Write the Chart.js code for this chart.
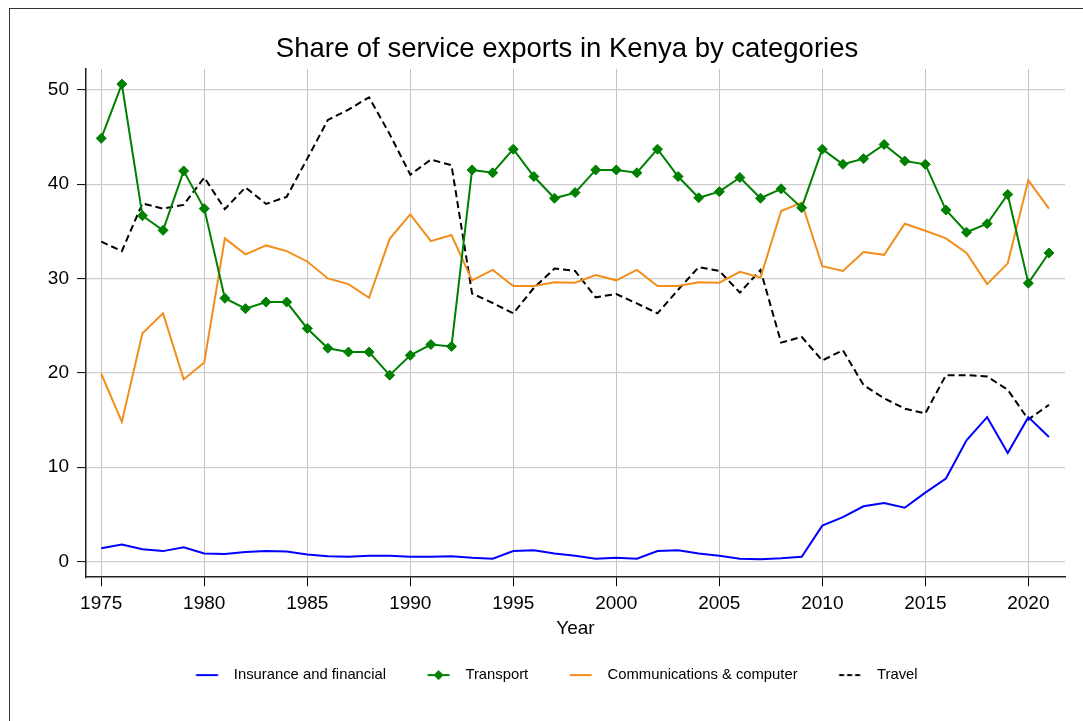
<!DOCTYPE html>
<html>
<head>
<meta charset="utf-8">
<title>Share of service exports in Kenya by categories</title>
<script src="https://cdn.jsdelivr.net/npm/chart.js@4.4.1/dist/chart.umd.min.js"></script>
<style>
  html, body { margin: 0; padding: 0; background: #fff; overflow: hidden; }
  #wrap { position: relative; width: 1083px; height: 721px; }
  #frame { position: absolute; left: 9px; top: 8px; width: 1090px; height: 730px;
           border-top: 1px solid #333; border-left: 1px solid #333; }
  #chart { position: absolute; left: 0; top: 0; }
</style>
</head>
<body>
<div id="wrap">
  <div id="frame"></div>
  <canvas id="chart" width="1083" height="721"></canvas>
</div>
<script>
// years on the x axis
const years = [1975, 1976, 1977, 1978, 1979, 1980, 1981, 1982, 1983, 1984,
               1985, 1986, 1987, 1988, 1989, 1990, 1991, 1992, 1993, 1994,
               1995, 1996, 1997, 1998, 1999, 2000, 2001, 2002, 2003, 2004,
               2005, 2006, 2007, 2008, 2009, 2010, 2011, 2012, 2013, 2014,
               2015, 2016, 2017, 2018, 2019, 2020, 2021];

// shares (%)
const insurance = [1.4, 1.8, 1.3, 1.1, 1.5, 0.85, 0.8, 1.0, 1.1, 1.05,
                   0.75, 0.55, 0.5, 0.6, 0.6, 0.5, 0.5, 0.55, 0.4, 0.3,
                   1.1, 1.2, 0.85, 0.6, 0.3, 0.4, 0.3, 1.1, 1.2, 0.85,
                   0.6, 0.3, 0.25, 0.35, 0.5, 3.8, 4.7, 5.85, 6.2, 5.7,
                   7.3, 8.8, 12.85, 15.3, 11.5, 15.3, 13.2];
const transport = [44.85, 50.6, 36.65, 35.1, 41.4, 37.4, 27.9, 26.8, 27.5, 27.5,
                   24.7, 22.6, 22.2, 22.2, 19.75, 21.85, 23.0, 22.8, 41.5, 41.2,
                   43.7, 40.8, 38.5, 39.1, 41.5, 41.5, 41.2, 43.7, 40.8, 38.55,
                   39.2, 40.7, 38.5, 39.5, 37.5, 43.7, 42.1, 42.7, 44.2, 42.45,
                   42.1, 37.25, 34.9, 35.8, 38.9, 29.5, 32.7];
const communications = [19.9, 14.8, 24.2, 26.3, 19.3, 21.1, 34.25, 32.55, 33.5, 32.9,
                        31.8, 30.0, 29.4, 27.95, 34.2, 36.8, 33.95, 34.6, 29.8, 30.9,
                        29.2, 29.2, 29.6, 29.55, 30.35, 29.8, 30.9, 29.2, 29.2, 29.6,
                        29.55, 30.7, 30.1, 37.15, 38.05, 31.3, 30.8, 32.8, 32.5, 35.8,
                        35.05, 34.25, 32.7, 29.4, 31.6, 40.4, 37.4];
const travel = [33.9, 32.9, 37.95, 37.4, 37.8, 40.7, 37.35, 39.65, 37.9, 38.65,
                42.7, 46.8, 47.9, 49.2, 45.3, 41.0, 42.6, 42.0, 28.4, 27.4,
                26.3, 29.0, 31.05, 30.8, 28.0, 28.35, 27.35, 26.3, 28.8, 31.2,
                30.8, 28.5, 30.9, 23.2, 23.8, 21.3, 22.4, 18.7, 17.3, 16.2,
                15.7, 19.75, 19.75, 19.6, 18.2, 15.05, 16.6];

const seriesNames = ['Insurance and financial', 'Transport', 'Communications & computer', 'Travel'];
const yTicks = [0, 10, 20, 30, 40, 50];
const xTicks = [1975, 1980, 1985, 1990, 1995, 2000, 2005, 2010, 2015, 2020];

const BLUE = '#0000ff';
const GREEN = '#008000';
const ORANGE = '#f28e1b';
const BLACK = '#000000';

function toPoints(values) {
    return years.map(function(y, i) { return { x: y, y: values[i] }; });
}

// little legend symbols: a short line (optionally dashed / with a diamond)
function legendSymbol(color, dash, diamond) {
    const c = document.createElement('canvas');
    c.width = 62;
    c.height = 16;
    const g = c.getContext('2d');
    g.strokeStyle = color;
    g.lineWidth = 2;
    g.setLineDash(dash || []);
    g.beginPath();
    g.moveTo(31.5, 8);
    g.lineTo(53.5, 8);
    g.stroke();
    if (diamond) {
        g.setLineDash([]);
        g.fillStyle = color;
        g.beginPath();
        g.moveTo(42.5, 3);
        g.lineTo(47.5, 8);
        g.lineTo(42.5, 13);
        g.lineTo(37.5, 8);
        g.closePath();
        g.fill();
    }
    return c;
}

const symbols = [
    legendSymbol(BLUE),
    legendSymbol(GREEN, null, true),
    legendSymbol(ORANGE),
    legendSymbol(BLACK, [5, 3])
];

Chart.defaults.font.family = "'Liberation Sans', Arial, sans-serif";
Chart.defaults.color = '#000';

// title in the reference sits a bit right of the canvas centre
const titleNudge = {
    id: 'titleNudge',
    afterLayout: function(chart) {
        chart.titleBlock.left = 69;
        chart.titleBlock.right = 1065;
    }
};

const ctx = document.getElementById('chart').getContext('2d');
new Chart(ctx, {
    type: 'line',
    data: {
        datasets: [
            {
                label: seriesNames[0],
                data: toPoints(insurance),
                borderColor: BLUE,
                backgroundColor: BLUE,
                borderWidth: 2,
                pointRadius: 0,
                tension: 0
            },
            {
                label: seriesNames[1],
                data: toPoints(transport),
                borderColor: GREEN,
                backgroundColor: GREEN,
                borderWidth: 2,
                pointStyle: 'rectRot',
                pointRadius: 5,
                pointBorderWidth: 1,
                pointBackgroundColor: GREEN,
                pointBorderColor: GREEN,
                tension: 0
            },
            {
                label: seriesNames[2],
                data: toPoints(communications),
                borderColor: ORANGE,
                backgroundColor: ORANGE,
                borderWidth: 2,
                pointRadius: 0,
                tension: 0
            },
            {
                label: seriesNames[3],
                data: toPoints(travel),
                borderColor: BLACK,
                backgroundColor: BLACK,
                borderWidth: 2,
                borderDash: [7, 4],
                pointRadius: 0,
                tension: 0
            }
        ]
    },
    options: {
        responsive: false,
        animation: false,
        layout: {
            padding: { left: 17, right: 18, top: 0, bottom: 28.5 }
        },
        scales: {
            x: {
                type: 'linear',
                min: 1974.26,
                max: 2021.78,
                afterFit: function(axis) { axis.height = 80.5; },
                afterBuildTicks: function(axis) {
                    axis.ticks = xTicks.map(function(v) { return { value: v }; });
                },
                ticks: {
                    padding: 6,
                    font: { size: 19 },
                    color: '#000',
                    maxRotation: 0,
                    callback: function(v) { return String(v); }
                },
                grid: {
                    color: '#c4c4c4',
                    lineWidth: 1,
                    tickColor: '#000',
                    tickLength: 9,
                    tickWidth: 1
                },
                border: { display: true, color: '#222', width: 1.5 },
                title: {
                    display: true,
                    text: 'Year',
                    font: { size: 19 },
                    color: '#000',
                    padding: { top: 0, bottom: 18 }
                }
            },
            y: {
                min: -1.665,
                max: 52.2,
                afterFit: function(axis) { axis.width = 69; },
                afterBuildTicks: function(axis) {
                    axis.ticks = yTicks.map(function(v) { return { value: v }; });
                },
                ticks: {
                    padding: 8,
                    font: { size: 19 },
                    color: '#000'
                },
                grid: {
                    color: '#cfcfcf',
                    lineWidth: 1.2,
                    tickColor: '#000',
                    tickLength: 9,
                    tickWidth: 1
                },
                border: { display: true, color: '#222', width: 1.5 }
            }
        },
        plugins: {
            title: {
                display: true,
                text: 'Share of service exports in Kenya by categories',
                color: '#000',
                font: { size: 27.5, weight: 'normal' },
                padding: { top: 32.5, bottom: 3.5 }
            },
            legend: {
                position: 'bottom',
                labels: {
                    usePointStyle: true,
                    pointStyleWidth: 62,
                    padding: 10,
                    color: '#000',
                    font: { size: 14.8 },
                    generateLabels: function(chart) {
                        return chart.data.datasets.map(function(ds, i) {
                            return {
                                text: ds.label,
                                pointStyle: symbols[i],
                                fillStyle: ds.borderColor,
                                strokeStyle: ds.borderColor,
                                lineWidth: 0,
                                hidden: false,
                                datasetIndex: i
                            };
                        });
                    }
                }
            },
            tooltip: { enabled: false }
        }
    },
    plugins: [titleNudge]
});
</script>
</body>
</html>
